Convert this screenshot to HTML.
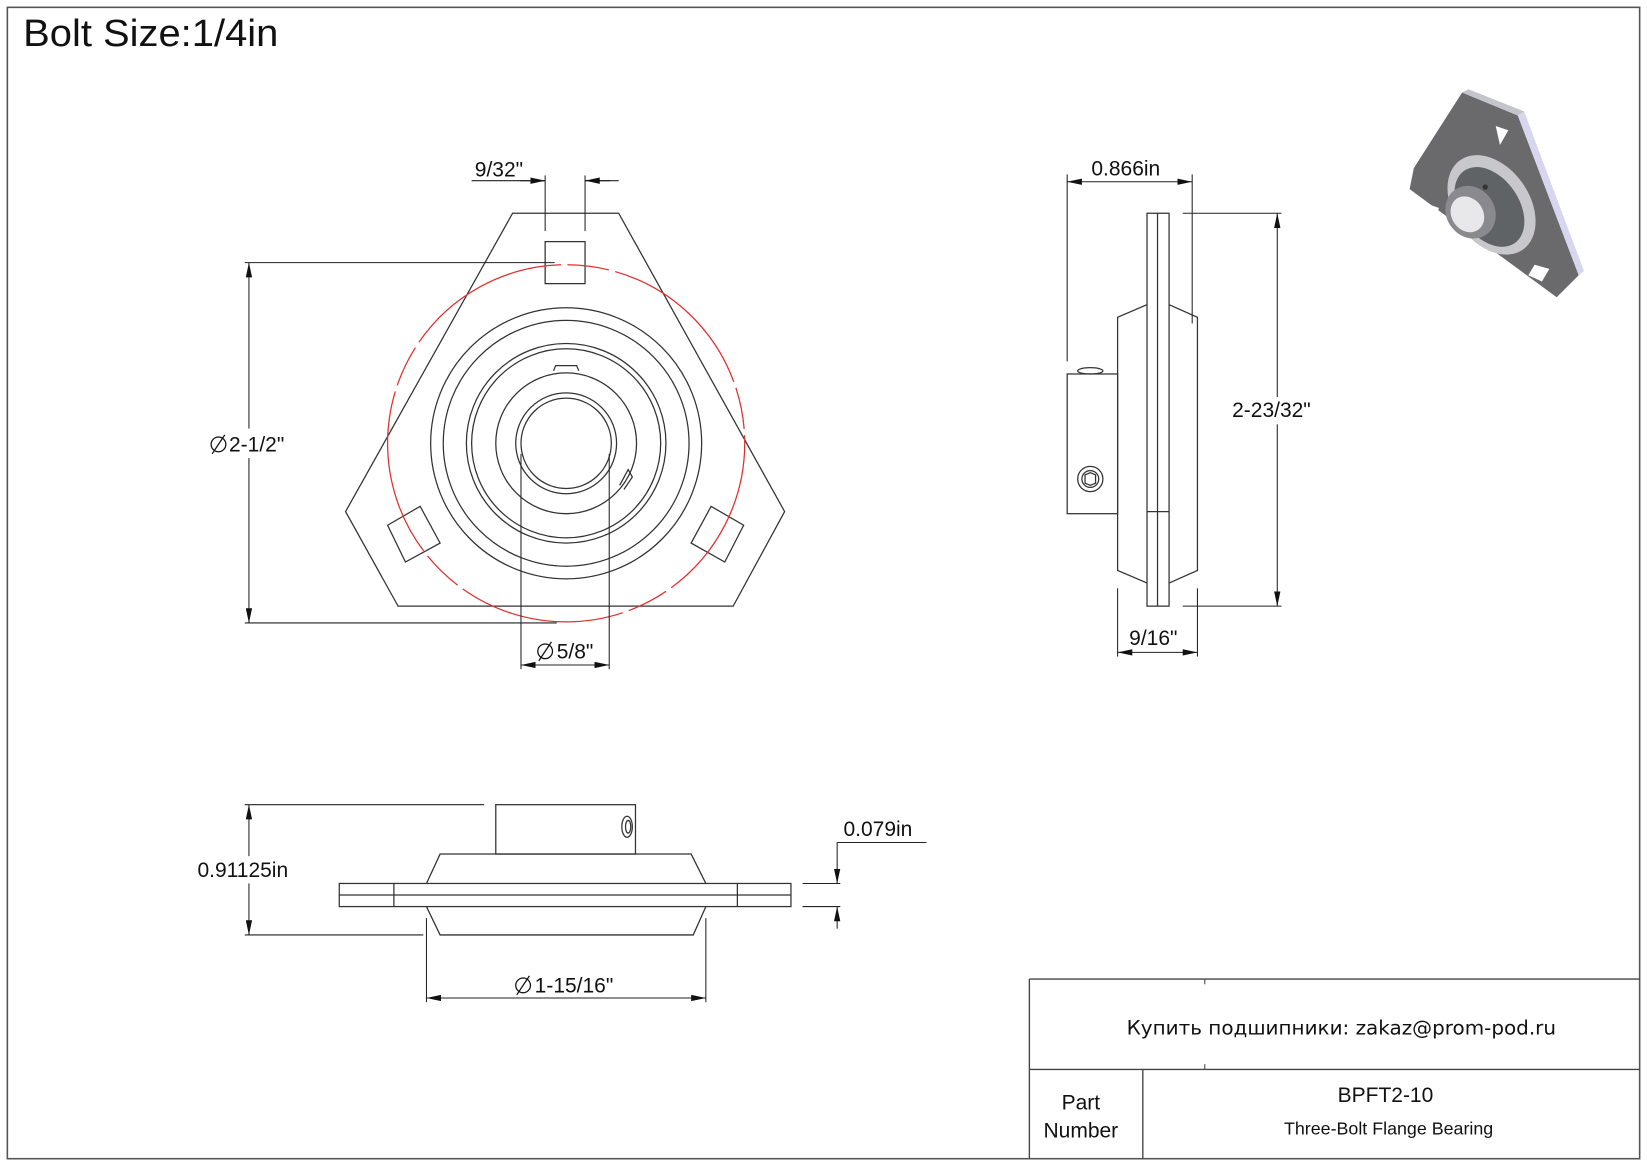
<!DOCTYPE html>
<html><head><meta charset="utf-8"><style>
html,body{margin:0;padding:0;background:#fff;}
svg{display:block;}
text{font-family:"Liberation Sans",sans-serif;fill:#111;}
</style></head><body>
<svg width="1647" height="1165" viewBox="0 0 1568 1109" preserveAspectRatio="none" xmlns="http://www.w3.org/2000/svg">
<defs>
<marker id="a" viewBox="0 0 14 6" refX="14" refY="3" markerWidth="14" markerHeight="6" markerUnits="userSpaceOnUse" orient="auto-start-reverse"><path d="M0,0L14,3L0,6z" fill="#111"/></marker>
</defs>
<rect x="7" y="7" width="1554" height="1096" fill="none" stroke="#555" stroke-width="1.5"/>
<text x="22" y="44" font-size="36" textLength="243" lengthAdjust="spacingAndGlyphs">Bolt Size:1/4in</text>

<g fill="none" stroke="#333" stroke-width="1.2">
<polygon points="488,203 589,203 747,487 698,577 379,577 329,487"/>
<rect x="519" y="230" width="38" height="40"/>
<polygon points="369,500 400,482 419,517 386,535"/>
<polygon points="658,517 677,482 708,500 690,535"/>
<circle cx="539" cy="422" r="129"/>
<circle cx="539" cy="422" r="117"/>
<circle cx="539" cy="422" r="95"/>
<circle cx="539" cy="422" r="90"/>
<circle cx="539" cy="422" r="67"/>
<circle cx="539" cy="422" r="48"/>
<circle cx="539" cy="422" r="43"/>
<path d="M527,353 L529,348 L549,348 L551,353"/>
<path d="M590,462 L598,447 L602,454 L594,466"/>
</g>
<circle cx="539" cy="422" r="170" fill="none" stroke="#e03030" stroke-width="1.2" stroke-dasharray="160,6,40,6"/>
<g fill="none" stroke="#222" stroke-width="1">
<line x1="519" y1="167" x2="519" y2="220"/>
<line x1="557" y1="167" x2="557" y2="220"/>
<line x1="449" y1="172" x2="519" y2="172"/>
<line x1="557" y1="172" x2="589" y2="172"/>
<line x1="495" y1="172" x2="519" y2="172" marker-end="url(#a)"/>
<line x1="581" y1="172" x2="557" y2="172" marker-end="url(#a)"/>
<line x1="233" y1="250" x2="528" y2="250"/>
<line x1="233" y1="593" x2="530" y2="593"/>
<line x1="237" y1="250" x2="237" y2="593" marker-start="url(#a)" marker-end="url(#a)"/>
<line x1="496" y1="432" x2="496" y2="637"/>
<line x1="580" y1="432" x2="580" y2="637"/>
<line x1="496" y1="633" x2="580" y2="633" marker-start="url(#a)" marker-end="url(#a)"/>
</g>
<rect x="198" y="408" width="84" height="28" fill="#fff"/>
<circle cx="208" cy="423" r="7" fill="none" stroke="#111" stroke-width="1.2"/>
<line x1="202" y1="432" x2="214" y2="414" stroke="#111" stroke-width="1.2"/>
<text x="218" y="430" font-size="20">2-1/2"</text>
<text x="452" y="168" font-size="20">9/32"</text>
<rect x="508" y="606" width="66" height="24" fill="#fff"/>
<circle cx="519" cy="620" r="7" fill="none" stroke="#111" stroke-width="1.2"/>
<line x1="513" y1="629" x2="525" y2="611" stroke="#111" stroke-width="1.2"/>
<text x="530" y="627" font-size="20">5/8"</text>

<g fill="none" stroke="#333" stroke-width="1.2">
<rect x="1092" y="203" width="21" height="374"/>
<line x1="1102" y1="203" x2="1102" y2="577"/>
<line x1="1092" y1="487" x2="1113" y2="487"/>
<polyline points="1092,290 1064,302 1064,543 1092,555"/>
<polyline points="1113,290 1140,302 1140,543 1113,555"/>
<rect x="1016" y="356" width="48" height="133"/>
<ellipse cx="1038" cy="353" rx="12" ry="3"/>
<circle cx="1038" cy="456" r="12"/>
<circle cx="1038" cy="456" r="8"/>
<polygon points="1033,452 1038,450 1043,452 1043,460 1038,462 1033,460"/>
</g>
<g fill="none" stroke="#222" stroke-width="1">
<line x1="1016" y1="166" x2="1016" y2="344"/>
<line x1="1135" y1="166" x2="1135" y2="308"/>
<line x1="1016" y1="173" x2="1135" y2="173" marker-start="url(#a)" marker-end="url(#a)"/>
<line x1="1126" y1="203" x2="1220" y2="203"/>
<line x1="1126" y1="577" x2="1220" y2="577"/>
<line x1="1216" y1="203" x2="1216" y2="577" marker-start="url(#a)" marker-end="url(#a)"/>
<line x1="1064" y1="560" x2="1064" y2="625"/>
<line x1="1140" y1="560" x2="1140" y2="625"/>
<line x1="1064" y1="621" x2="1140" y2="621" marker-start="url(#a)" marker-end="url(#a)"/>
</g>
<text x="1039" y="167" font-size="20">0.866in</text>
<rect x="1172" y="378" width="86" height="26" fill="#fff"/>
<text x="1173" y="397" font-size="20">2-23/32"</text>
<text x="1075" y="614" font-size="20">9/16"</text>

<g fill="none" stroke="#333" stroke-width="1.2">
<rect x="472" y="766" width="133" height="47"/>
<ellipse cx="597" cy="787" rx="5" ry="10"/>
<ellipse cx="598" cy="787" rx="2.5" ry="6"/>
<polyline points="406,841 419,813 658,813 672,841"/>
<rect x="323" y="841" width="430" height="22"/>
<line x1="323" y1="852" x2="753" y2="852"/>
<line x1="375" y1="841" x2="375" y2="863"/>
<line x1="702" y1="841" x2="702" y2="863"/>
<polyline points="406,863 419,890 660,890 672,863"/>
</g>
<g fill="none" stroke="#222" stroke-width="1">
<line x1="233" y1="766" x2="461" y2="766"/>
<line x1="233" y1="890" x2="403" y2="890"/>
<line x1="237" y1="766" x2="237" y2="890" marker-start="url(#a)" marker-end="url(#a)"/>
<line x1="406" y1="874" x2="406" y2="954"/>
<line x1="672" y1="874" x2="672" y2="954"/>
<line x1="406" y1="950" x2="672" y2="950" marker-start="url(#a)" marker-end="url(#a)"/>
<line x1="764" y1="841" x2="800" y2="841"/>
<line x1="764" y1="863" x2="800" y2="863"/>
<line x1="797" y1="802" x2="797" y2="841" marker-end="url(#a)"/>
<line x1="797" y1="884" x2="797" y2="863" marker-end="url(#a)"/>
<line x1="797" y1="802" x2="882" y2="802"/>
</g>
<rect x="186" y="815" width="102" height="26" fill="#fff"/>
<text x="188" y="835" font-size="20">0.91125in</text>
<text x="803" y="796" font-size="20">0.079in</text>
<circle cx="498" cy="938" r="7" fill="none" stroke="#111" stroke-width="1.2"/>
<line x1="492" y1="947" x2="504" y2="929" stroke="#111" stroke-width="1.2"/>
<text x="509" y="945" font-size="20">1-15/16"</text>

<g>
<polygon points="1392,88 1445,110 1503,262 1482,283 1342,180 1346,160" fill="#6a6a6d"/>
<polygon points="1445,110 1451,106 1508,258 1503,262" fill="#d8d6ee"/>
<polygon points="1392,88 1398,85 1451,106 1445,110" fill="#c4c4cc"/>
<polygon points="1424,120 1436,124 1428,138" fill="#fff"/>
<polygon points="1356,193 1370,198 1366,208 1352,202" fill="#fff"/>
<polygon points="1461,252 1475,256 1468,268 1455,262" fill="#fff"/>
<ellipse cx="1420" cy="195" rx="36" ry="52" transform="rotate(-35 1420 195)" fill="#c8c8cc"/>
<ellipse cx="1418" cy="197" rx="28" ry="42" transform="rotate(-35 1418 197)" fill="#606366"/>
<ellipse cx="1400" cy="202" rx="23" ry="26" transform="rotate(-35 1400 202)" fill="#8a8a8e"/>
<ellipse cx="1397" cy="204" rx="15" ry="18" transform="rotate(-35 1397 204)" fill="#e8e8ea"/>
<circle cx="1414" cy="178" r="2.5" fill="#333"/>
</g>

<g fill="none" stroke="#444" stroke-width="1.3">
<line x1="980" y1="932" x2="1561" y2="932"/>
<line x1="980" y1="932" x2="980" y2="1103"/>
<line x1="980" y1="1018" x2="1561" y2="1018"/>
<line x1="1088" y1="1018" x2="1088" y2="1103"/>
<line x1="1147" y1="932" x2="1147" y2="937" stroke-width="1"/>
<line x1="1147" y1="1013" x2="1147" y2="1018" stroke-width="1"/>
</g>
<text x="1277" y="985" font-size="19" text-anchor="middle" style='font-family:"DejaVu Sans","Liberation Sans",sans-serif'>Купить подшипники: zakaz@prom-pod.ru</text>
<text x="1029" y="1056" font-size="20" text-anchor="middle">Part</text>
<text x="1029" y="1083" font-size="20" text-anchor="middle">Number</text>
<text x="1319" y="1049" font-size="20" text-anchor="middle">BPFT2-10</text>
<text x="1322" y="1080" font-size="17" text-anchor="middle">Three-Bolt Flange Bearing</text>
</svg>
</body></html>
